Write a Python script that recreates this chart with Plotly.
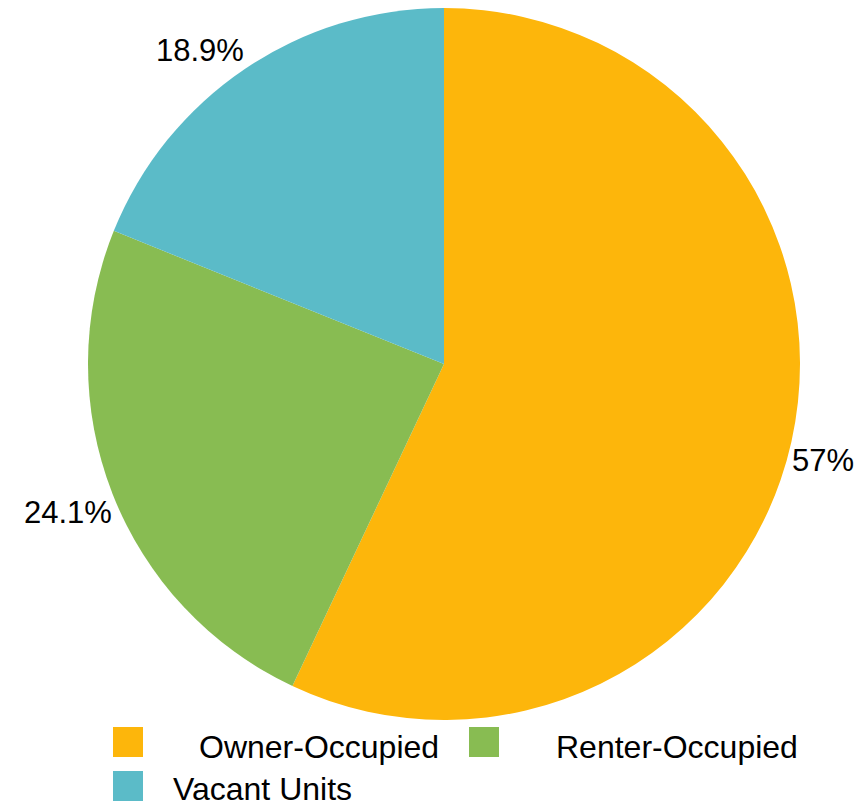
import math
import plotly.graph_objects as go

categories = ["Owner-Occupied", "Renter-Occupied", "Vacant Units"]
values = [57.0, 24.1, 18.9]
colors = ["#FDB60B", "#88BC52", "#5BBBC8"]

OFF = 8  # page body margin offset
W, H = 865 - OFF, 804 - OFF
L, T = 80, 0
PW = PH = 712
R, B = W - L - PW, H - T - PH
FONT = "Liberation Sans, Arial, sans-serif"

def px_x(x):
    return (x - OFF - L) / PW

def px_y(y):
    return 1 - (y - OFF - T) / PH

fig = go.Figure(go.Pie(
    labels=categories,
    values=values,
    marker=dict(colors=colors, line=dict(width=0)),
    textinfo="none",
    sort=False,
    direction="clockwise",
    rotation=0,
    showlegend=False,
    hoverinfo="label+percent",
    domain=dict(x=[0, 1], y=[0, 1]),
))

# percent labels outside each slice, anchored at the slice's mid-angle on the rim
total = sum(values)
cum = 0.0
for v in values:
    theta = 2 * math.pi * (cum + v / 2) / total
    cum += v
    s, c = math.sin(theta), math.cos(theta)
    pct = f"{100 * v / total:.3g}%"
    fig.add_annotation(
        xref="paper", yref="paper",
        x=0.5 + 0.5 * s, y=0.5 + 0.5 * c,
        text=pct, showarrow=False,
        xanchor="left" if s > 0 else "right",
        yanchor="bottom" if c > 0 else "top",
        borderpad=0,
        font=dict(family=FONT, size=31, color="#000000"),
    )

# manual legend (large square swatches like the reference), page pixel positions
legend_pos = [(113, 727, 197, 747), (469, 727, 554, 747), (113, 771, 171, 789)]
for cat, col, (sx, sy, tx, ty) in zip(categories, colors, legend_pos):
    fig.add_shape(type="rect", xref="paper", yref="paper",
                  x0=px_x(sx), x1=px_x(sx + 30), y0=px_y(sy), y1=px_y(sy + 30),
                  fillcolor=col, line=dict(width=0))
    fig.add_annotation(xref="paper", yref="paper", x=px_x(tx), y=px_y(ty),
                       text=cat, showarrow=False, xanchor="left", yanchor="middle",
                       font=dict(family=FONT, size=32, color="#000000"))

fig.update_layout(
    width=W, height=H,
    margin=dict(l=L, r=R, t=T, b=B, autoexpand=False),
    paper_bgcolor="white", plot_bgcolor="white",
)
fig.write_html("out.html")
